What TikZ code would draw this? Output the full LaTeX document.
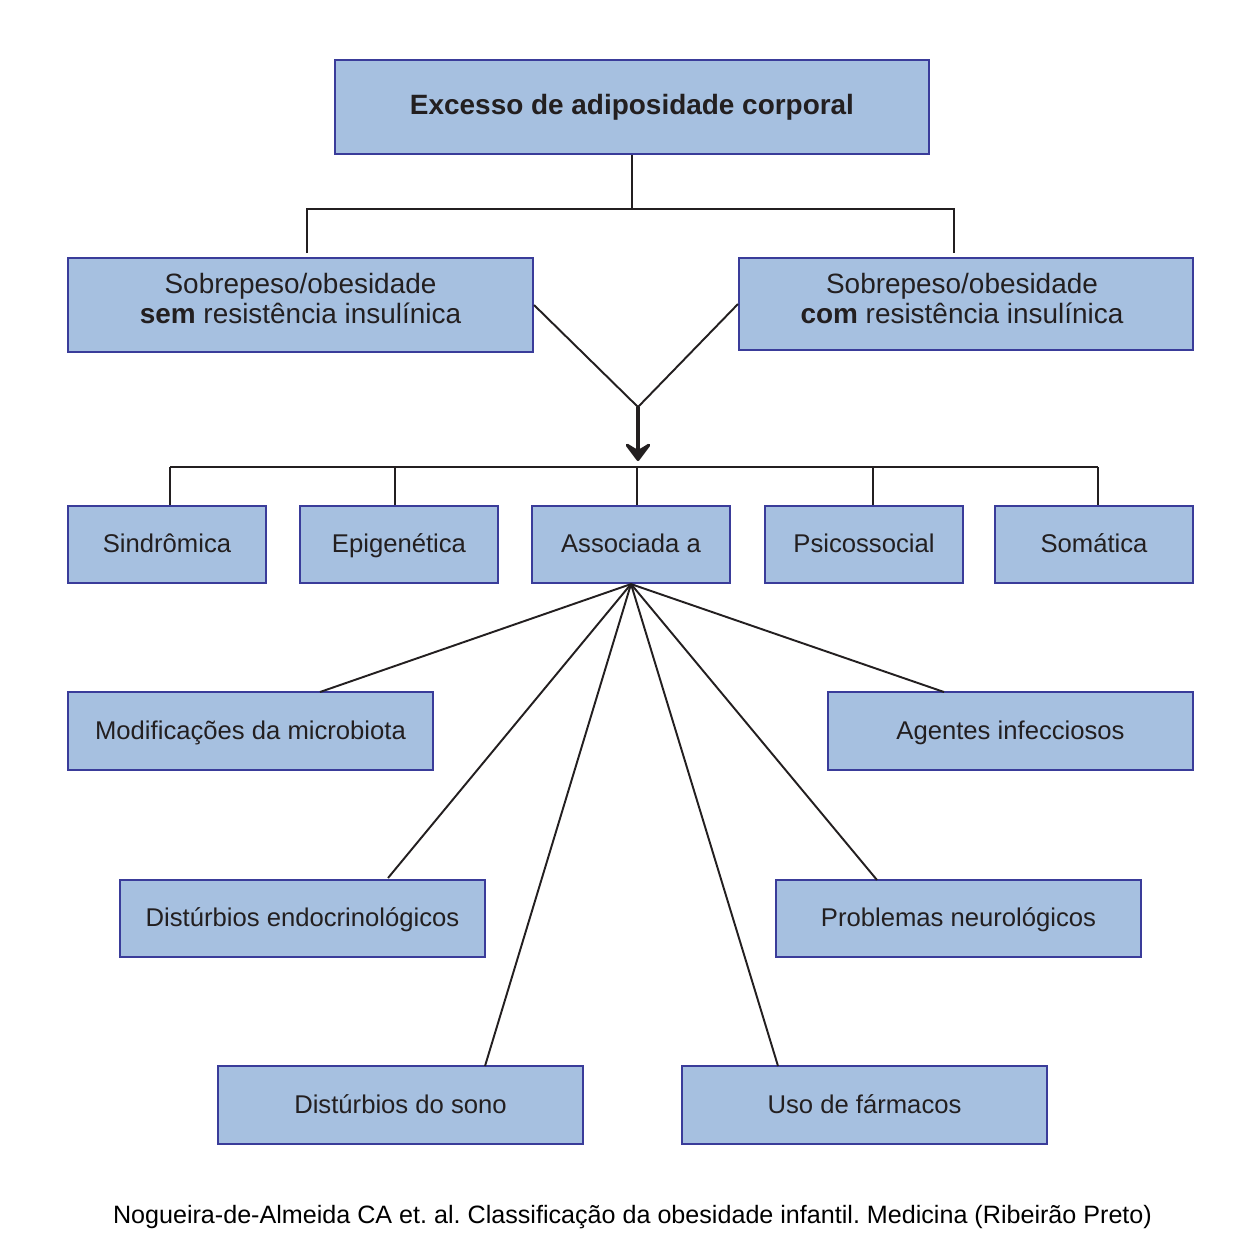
\documentclass[tikz,border=0pt]{standalone}
\usepackage{fontspec}
\setmainfont{Liberation Sans}
\frenchspacing
\usetikzlibrary{arrows.meta}
\definecolor{boxfill}{HTML}{A6C0E0}
\definecolor{boxline}{HTML}{3A3C9A}
\definecolor{ink}{HTML}{231F20}
\begin{document}
\begin{tikzpicture}[x=0.02cm,y=-0.02cm,
  box/.style={draw=boxline, fill=boxfill, line width=1.2pt, text=ink, inner sep=0pt, align=center},
  big/.style={font=\fontsize{15.9}{17}\selectfont},
  mid/.style={font=\fontsize{14.6}{17}\selectfont, text height=13.1pt, text depth=3.5pt},
  txt/.style={text=ink, inner sep=0pt, anchor=base, font=\fontsize{15.9}{17}\selectfont},
  conn/.style={draw=ink, line width=1.1pt}]
\useasboundingbox (0,0) rectangle (1260,1248);
% boxes
\node[box, big, text height=13pt, text depth=4pt, minimum width=11.88cm, minimum height=1.88cm] (top) at (632,107) {\textbf{Excesso de adiposidade corporal}};
\node[box, minimum width=9.3cm, minimum height=1.88cm] (sem) at (300.5,305) {};
\node[txt] (sem1) at (300.5,293) {Sobrepeso/obesidade};
\node[txt] (sem2) at (300.5,323) {\textbf{sem} resistência insulínica};
\node[box, minimum width=9.08cm, minimum height=1.84cm] (com) at (966,304) {};
\node[txt] (com1) at (962,293) {Sobrepeso/obesidade};
\node[txt] (com2) at (962,323) {\textbf{com} resistência insulínica};
\node[box, mid, minimum width=3.96cm, minimum height=1.54cm] (sind) at (167,544.5) {Sindrômica};
\node[box, mid, minimum width=3.96cm, minimum height=1.54cm] (epi) at (399,544.5) {Epigenética};
\node[box, mid, minimum width=3.96cm, minimum height=1.54cm] (assoc) at (631,544.5) {Associada a};
\node[box, mid, minimum width=3.96cm, minimum height=1.54cm] (psico) at (864,544.5) {Psicossocial};
\node[box, mid, minimum width=3.96cm, minimum height=1.54cm] (soma) at (1094,544.5) {Somática};
\node[box, mid, minimum width=7.3cm, minimum height=1.56cm] (micro) at (250.5,731) {Modificações da microbiota};
\node[box, mid, minimum width=7.3cm, minimum height=1.56cm] (agen) at (1010.5,731) {Agentes infecciosos};
\node[box, mid, minimum width=7.3cm, minimum height=1.54cm] (endo) at (302.5,918.5) {Distúrbios endocrinológicos};
\node[box, mid, minimum width=7.3cm, minimum height=1.54cm] (neuro) at (958.5,918.5) {Problemas neurológicos};
\node[box, mid, minimum width=7.3cm, minimum height=1.56cm] (sono) at (400.5,1105) {Distúrbios do sono};
\node[box, mid, minimum width=7.3cm, minimum height=1.56cm] (farm) at (864.5,1105) {Uso de fármacos};
% caption
\node[text=black, font=\fontsize{14.3}{16}\selectfont, inner sep=0pt] (cap) at (632.5,1217.5) {Nogueira-de-Almeida CA et. al. Classificação da obesidade infantil. Medicina (Ribeirão Preto)};
% top split
\coordinate (j) at (632,209);
\coordinate (a1) at (307,253);
\coordinate (a2) at (954,253);
\draw[conn] (top.south) -- (j);
\draw[conn] (a1) |- (j) -| (a2);
% merge
\coordinate (v) at (638,407);
\coordinate (vt) at (638,461);
\draw[conn] (sem.east) -- (v) -- (com.west);
\draw[draw=ink, line width=2.4pt, -{Stealth[length=0.44cm, width=0.66cm, inset=0.2cm, round]}] (v) -- (vt);
% bus
\coordinate (b1) at (170,467);
\coordinate (b2) at (395,467);
\coordinate (b3) at (637,467);
\coordinate (b4) at (873,467);
\coordinate (b5) at (1098,467);
\draw[conn] (b1) -- (b5);
\draw[conn] (b1) -- (sind.north -| b1);
\draw[conn] (b2) -- (epi.north -| b2);
\draw[conn] (b3) -- (assoc.north -| b3);
\draw[conn] (b4) -- (psico.north -| b4);
\draw[conn] (b5) -- (soma.north -| b5);
% fan
\coordinate (f1) at (320,692);
\coordinate (f2) at (388,878);
\coordinate (f3) at (485,1066);
\coordinate (f4) at (778,1066);
\coordinate (f5) at (877,880);
\coordinate (f6) at (944,692);
\draw[conn] (f1) -- (assoc.south);
\draw[conn] (f2) -- (assoc.south);
\draw[conn] (f3) -- (assoc.south);
\draw[conn] (f4) -- (assoc.south);
\draw[conn] (f5) -- (assoc.south);
\draw[conn] (f6) -- (assoc.south);
\end{tikzpicture}
\end{document}
